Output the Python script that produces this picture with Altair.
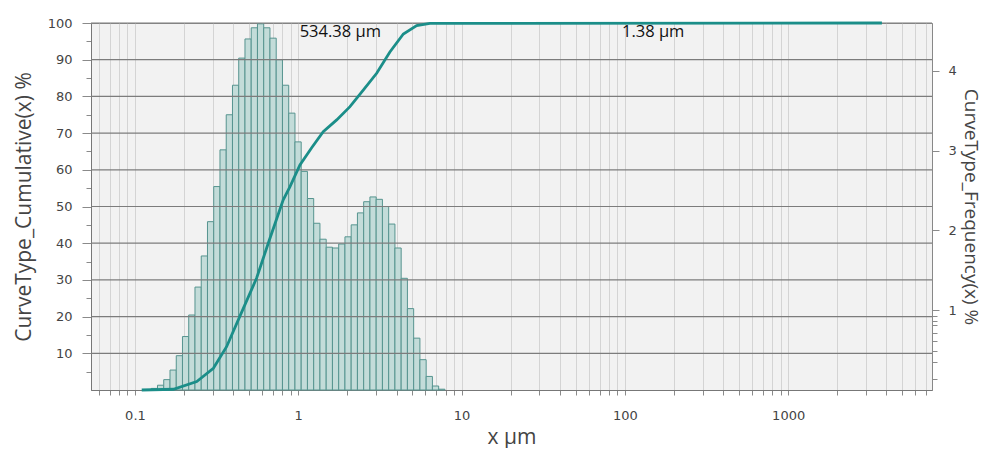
import altair as alt
import pandas as pd

# ---- data ----
bin_edges = [0.1258, 0.1374, 0.1500, 0.1639, 0.1790, 0.1954, 0.2134, 0.2331, 0.2546, 0.2780,
             0.3036, 0.3316, 0.3621, 0.3955, 0.4319, 0.4717, 0.5151, 0.5625, 0.6143, 0.6709,
             0.7327, 0.8002, 0.8739, 0.9544, 1.0423, 1.1383, 1.2431, 1.3576, 1.4826, 1.6192,
             1.7683, 1.9312, 2.1090, 2.3033, 2.5154, 2.7470, 3.0000, 3.2763, 3.5781, 3.9076,
             4.2675, 4.6606, 5.0898, 5.5586, 6.0705, 6.6296, 7.2402, 7.9070]
freq = [0.02, 0.06, 0.13, 0.25, 0.43, 0.67, 0.94, 1.29, 1.68, 2.11,
        2.55, 3.01, 3.45, 3.82, 4.16, 4.40, 4.54, 4.59, 4.54, 4.41,
        4.14, 3.82, 3.47, 3.11, 2.74, 2.40, 2.09, 1.89, 1.79, 1.78,
        1.83, 1.92, 2.07, 2.22, 2.36, 2.42, 2.39, 2.30, 2.08, 1.78,
        1.40, 1.02, 0.65, 0.38, 0.17, 0.05, 0.01]
cum_x = [0.110, 0.172, 0.239, 0.302, 0.364, 0.440, 0.556, 0.655, 0.809, 0.890,
         1.024, 1.208, 1.422, 1.719, 2.073, 2.50, 3.02, 3.64, 4.40, 5.31, 6.40, 3750]
cum_y = [0.0, 0.2, 2.3, 5.9, 11.8, 20.2, 30.5, 40.0, 51.8, 55.4,
         61.3, 66.0, 70.4, 73.6, 77.2, 81.7, 86.3, 92.1, 97.0, 99.3, 99.9, 100.0]
ann_text = ["534.38 µm", "1.38 µm"]
ann_x = [1.02, 96.0]
ann_y = [96.3, 96.3]

grid_y = [10, 20, 30, 40, 50, 60, 70, 80, 90, 100]
left_ticks = [5, 10, 15, 20, 25, 30, 35, 40, 45, 50, 55, 60, 65, 70, 75, 80, 85, 90, 95, 100]
right_ticks = [0.14, 0.35, 0.49, 0.62, 0.72, 0.81, 0.87, 0.93, 1, 2, 3, 4]
x_ticks = [0.06, 0.07, 0.08, 0.09,
           0.1, 0.2, 0.3, 0.4, 0.5, 0.6, 0.7, 0.8, 0.9,
           1, 2, 3, 4, 5, 6, 7, 8, 9,
           10, 20, 30, 40, 50, 60, 70, 80, 90,
           100, 200, 300, 400, 500, 600, 700, 800, 900,
           1000, 2000, 3000, 4000, 5000, 6000, 7000]

bars_df = pd.DataFrame({"lo": bin_edges[:-1], "hi": bin_edges[1:], "f": freq})
cum_df = pd.DataFrame({"x": cum_x, "c": cum_y})
ann_df = pd.DataFrame({"x": ann_x, "c": ann_y, "t": ann_text})
grid_df = pd.DataFrame({"g": grid_y})

LABEL_FONT = "DejaVu Sans"
TITLE_FONT = "Open Sans"

xscale = alt.Scale(type="log", domain=[0.0538, 7600], nice=False)
xaxis = alt.Axis(
    values=x_ticks,
    labelExpr="indexof([0.1, 1, 10, 100, 1000], datum.value) >= 0 ? format(datum.value, '~g') : ''",
    labelOverlap=False, labelFlush=False,
    grid=True, gridColor="#d4d4d4", gridWidth=1,
    tickSize=5, tickColor="#8a8a8a", domainColor="#777777",
    labelFont=LABEL_FONT, labelFontSize=13, labelColor="#444444", labelPadding=14,
    title="x µm", titleFont=TITLE_FONT, titleFontSize=21, titleFontWeight="normal",
    titleColor="#444444", titleY=53, titleBaseline="alphabetic",
)

cum_scale = alt.Scale(domain=[0, 100], nice=False, zero=False)
cum_axis = alt.Axis(
    orient="left", values=left_ticks,
    labelExpr="datum.value % 10 == 0 ? format(datum.value, 'd') : ''",
    tickSize={"condition": {"test": "datum.value % 10 == 0", "value": 9}, "value": 5},
    grid=False, domainColor="#777777", tickColor="#8a8a8a",
    labelFont=LABEL_FONT, labelFontSize=13, labelColor="#444444", labelPadding=10,
    title="CurveType_Cumulative(x) %", titleFont=TITLE_FONT, titleFontSize=21,
    titleFontWeight="normal", titleColor="#444444", titleX=-61, titleBaseline="alphabetic",
)

freq_scale = alt.Scale(domain=[0, 4.6], nice=False)
freq_axis = alt.Axis(
    orient="right", values=right_ticks,
    labelExpr="datum.value % 1 == 0 ? format(datum.value, 'd') : ''",
    tickSize={"condition": {"test": "datum.value % 1 == 0", "value": 7}, "value": 5},
    grid=False, domainColor="#888888", tickColor="#8a8a8a",
    labelFont=LABEL_FONT, labelFontSize=13, labelColor="#444444", labelPadding=9,
    title="CurveType_Frequency(x) %", titleFont=TITLE_FONT, titleFontSize=19,
    titleFontWeight="normal", titleColor="#444444", titleX=32, titleBaseline="alphabetic",
    titleAngle=90,
)

bars = alt.Chart(bars_df).mark_rect(
    fill="#c3dcd9", stroke="#56948f", strokeWidth=1
).encode(
    x=alt.X("lo:Q", scale=xscale, axis=xaxis),
    x2="hi:Q",
    y=alt.Y("f:Q", scale=freq_scale, axis=freq_axis),
    y2=alt.datum(0),
)

rules = alt.Chart(grid_df).mark_rule(color="#7c7c7c", strokeWidth=1.2).encode(
    y=alt.Y("g:Q", scale=cum_scale, axis=cum_axis)
)

line = alt.Chart(cum_df).mark_line(color="#1b8e89", strokeWidth=2.8).encode(
    x=alt.X("x:Q", scale=xscale, axis=xaxis),
    y=alt.Y("c:Q", scale=cum_scale, axis=cum_axis),
)

ann = alt.Chart(ann_df).mark_text(
    align="left", baseline="alphabetic", font=TITLE_FONT, fontSize=16.5, color="#111111"
).encode(
    x=alt.X("x:Q", scale=xscale, axis=xaxis),
    y=alt.Y("c:Q", scale=cum_scale, axis=cum_axis),
    text="t:N",
)

inner = alt.layer(rules, line, ann)

chart = alt.layer(bars, inner).resolve_scale(y="independent").properties(
    width=841, height=367,
    padding={"left": 83, "top": 15, "right": 52, "bottom": 58},
    autosize=alt.AutoSizeParams(type="none"),
).configure_view(fill="#f2f2f2", stroke="#8a8a8a")

chart.save("out.html", embed_options={"renderer": "svg", "actions": False})
